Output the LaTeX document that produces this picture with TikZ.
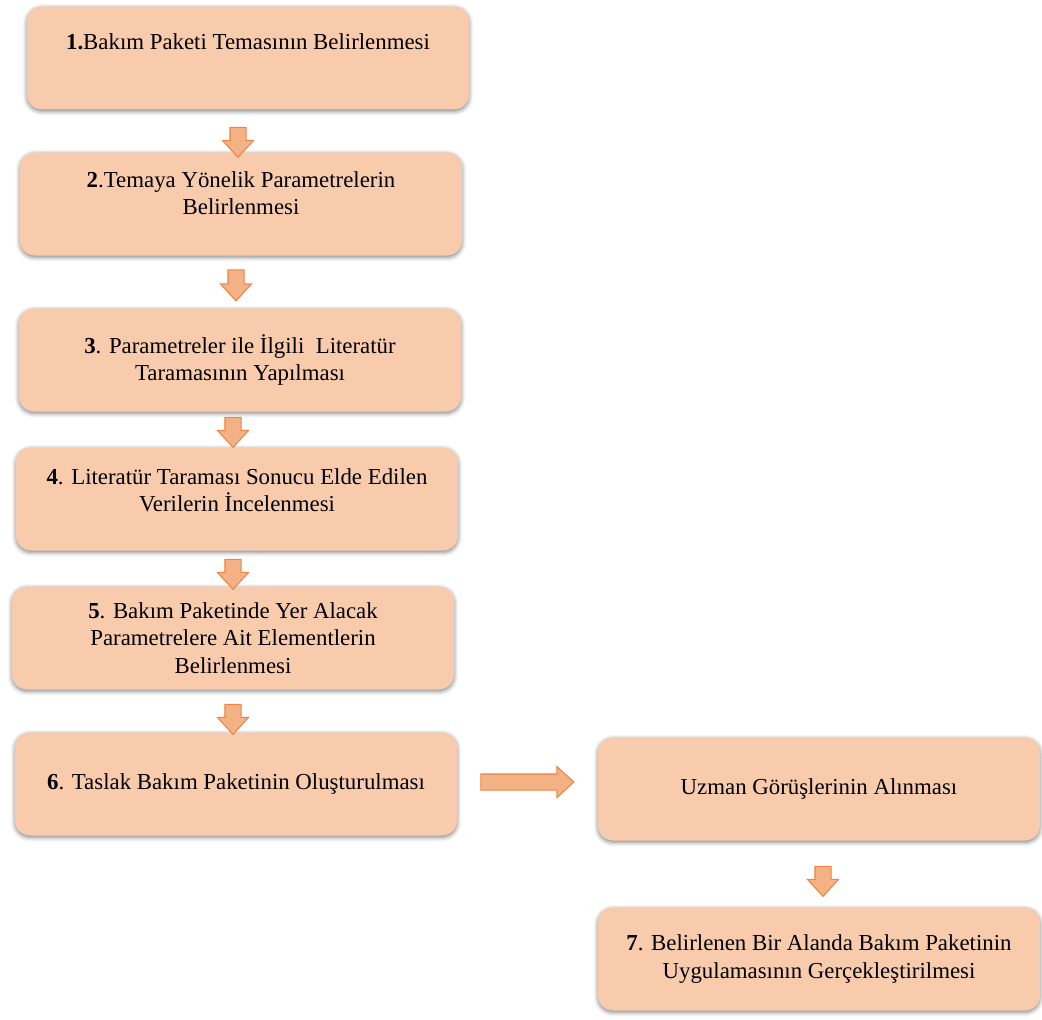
\documentclass[tikz,border=0pt]{standalone}
\usepackage{fontspec}
\setmainfont{Liberation Serif}
\usetikzlibrary{shapes.arrows,shadows.blur}
\definecolor{peach}{HTML}{F8CBAD}
\definecolor{arrfill}{HTML}{F4B183}
\definecolor{arrdraw}{HTML}{EE8446}

\begin{document}
\begin{tikzpicture}[x=0.02cm, y=-0.02cm,
  stage/.style={rounded corners=0.3cm, fill=peach, minimum width=8.84cm, minimum height=2.06cm,
    align=center, font=\fontsize{13}{15.5}\selectfont,
    blur shadow={shadow xshift=0pt, shadow yshift=-1pt, shadow blur radius=2.5pt, shadow opacity=50}},
  blockarrow/.style={single arrow, fill=arrfill, draw=arrdraw, line width=0.6pt, inner sep=0.15cm,
    single arrow head extend=0.15cm, single arrow tip angle=85}]
\useasboundingbox (0,0) rectangle (1042,1019);
% left column
\node [stage] (b1) at (248,58) {\textbf{1.}Bakım Paketi Temasının Belirlenmesi\\[3pt]};
\node [stage] (b2) at (241,204) {\textbf{2}.Temaya Yönelik Parametrelerin\\Belirlenmesi\\[-3pt]};
\node [stage] (b3) at (240,360) {\textbf{3}. Parametreler ile İlgili\ \ Literatür\\Taramasının Yapılması};
\node [stage] (b4) at (237,499) {\textbf{4}. Literatür Taraması Sonucu Elde Edilen\\Verilerin İncelenmesi\\[-5pt]};
\node [stage] (b5) at (233,638) {\textbf{5}. Bakım Paketinde Yer Alacak\\Parametrelere Ait Elementlerin\\Belirlenmesi};
\node [stage] (b6) at (236,784) {\textbf{6}. Taslak Bakım Paketinin Oluşturulması};
% right column
\node [stage] (b8) at (819,789) {Uzman Görüşlerinin Alınması};
\node [stage] (b7) at (819,959) {\textbf{7}. Belirlenen Bir Alanda Bakım Paketinin\\Uygulamasının Gerçekleştirilmesi};
% arrows
\node [blockarrow, rotate=-90, minimum height=0.6cm] (a1) at (238,138) {};
\node [blockarrow, rotate=-90, minimum height=0.62cm] (a2) at (236,281) {};
\node [blockarrow, rotate=-90, minimum height=0.6cm] (a3) at (233,428) {};
\node [blockarrow, rotate=-90, minimum height=0.6cm] (a4) at (233,570) {};
\node [blockarrow, rotate=-90, minimum height=0.6cm] (a5) at (233,715) {};
\node [blockarrow, minimum height=1.86cm] (a6) at (523,782) {};
\node [blockarrow, rotate=-90, minimum height=0.6cm] (a7) at (823,877) {};
\end{tikzpicture}
\end{document}
